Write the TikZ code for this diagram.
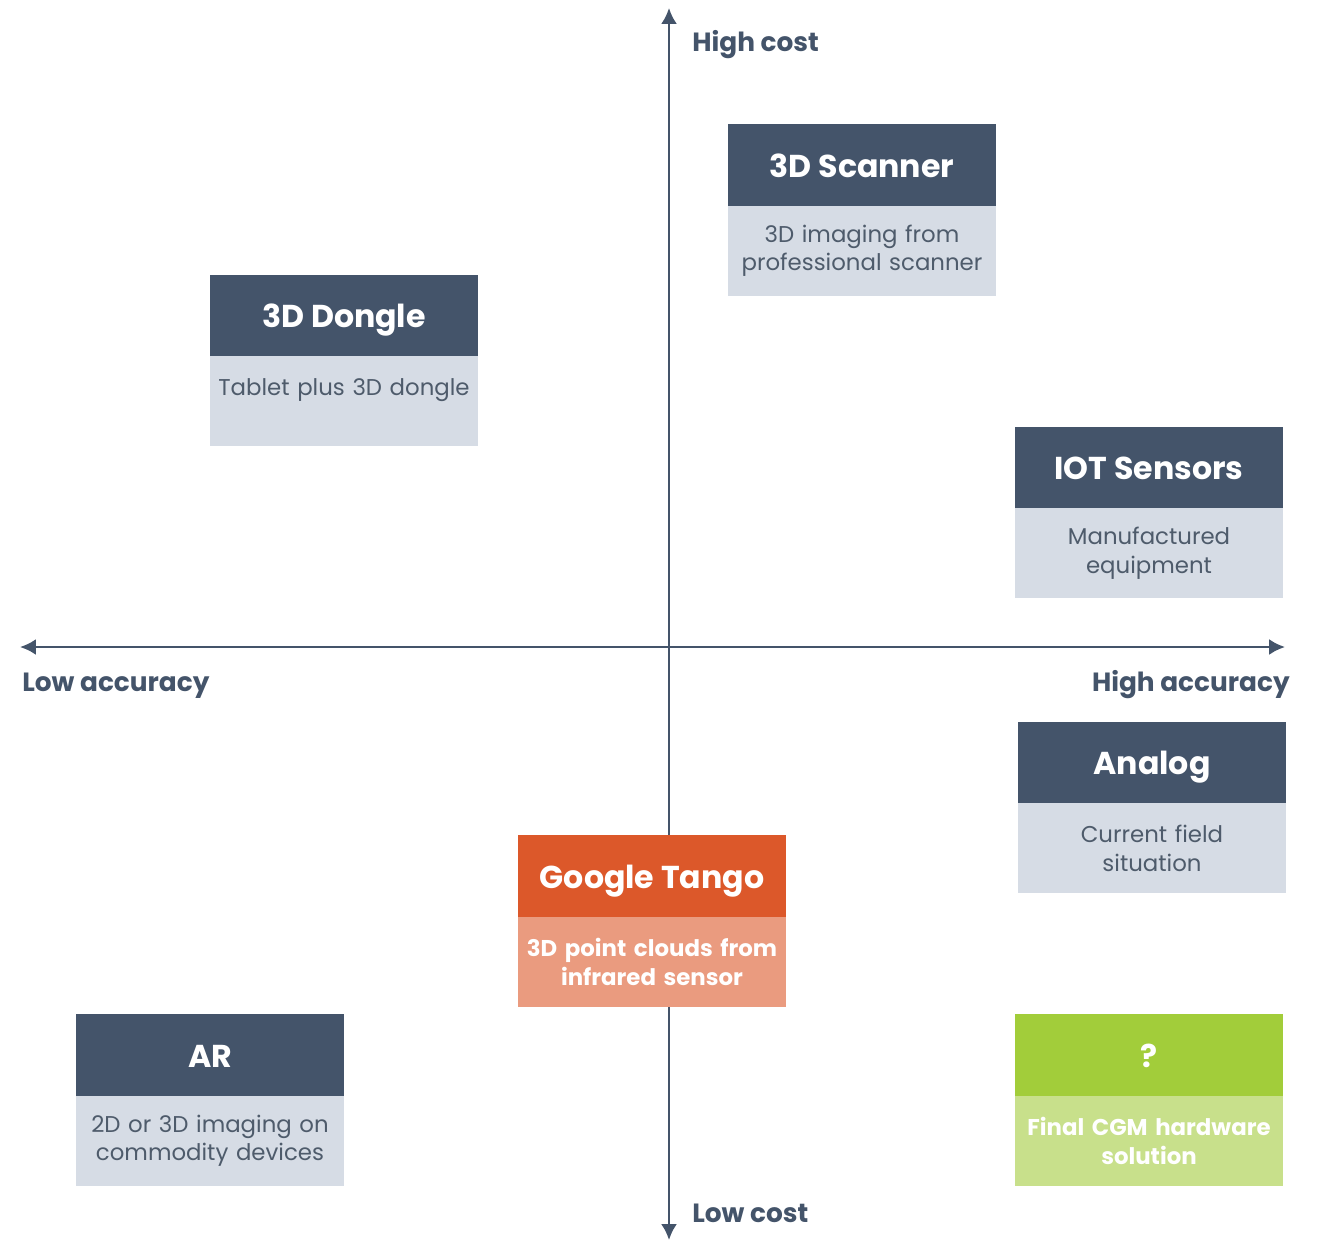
\documentclass[tikz,border=0pt]{standalone}
\usepackage{fontspec}
\setmainfont{Poppins}
\usetikzlibrary{arrows.meta,positioning}
\usepackage{xcolor}
\definecolor{slate}{HTML}{44546A}
\definecolor{slatetext}{HTML}{4E5B6B}
\definecolor{mist}{HTML}{D6DCE5}
\definecolor{tangohead}{HTML}{DC582A}
\definecolor{tangobody}{HTML}{EA9B7F}
\definecolor{finalhead}{HTML}{A2CD3A}
\definecolor{finalbody}{HTML}{C8E08B}

\begin{document}
\begin{tikzpicture}[x=2cm,y=-2cm,
	head/.style={fill=slate,text=white,font=\fontsize{18}{22}\selectfont\bfseries,minimum width=5.36cm,minimum height=1.64cm,inner sep=0pt,text height=14pt,text depth=0pt},
	body/.style={fill=mist,text=slatetext,font=\fontsize{13}{16.2}\selectfont,minimum width=5.36cm,minimum height=1.8cm,text width=5.2cm,align=center,inner sep=0pt},
	axisline/.style={draw=slate,line width=1.4pt,{Latex[length=9pt,width=9pt]}-{Latex[length=9pt,width=9pt]}},
	axislabel/.style={text=slate,font=\fontsize{15}{18}\selectfont\bfseries,inner sep=0pt}]

	\useasboundingbox (0,0) rectangle (13.19,12.42);

	% axes
	\coordinate (costtop) at (6.69,0.08);
	\coordinate (costbottom) at (6.69,12.40);
	\coordinate (accleft) at (0.20,6.47);
	\coordinate (accright) at (12.85,6.47);
	\draw[axisline] (costbottom) -- (costtop);
	\draw[axisline] (accleft) -- (accright);

	\node[axislabel,anchor=west] (highcost) at (6.92,0.45) {High cost};
	\node[axislabel,anchor=west] (lowcost) at (6.92,12.13) {Low cost};
	\node[axislabel,anchor=west] (lowacc) at (0.22,6.86) {Low accuracy};
	\node[axislabel,anchor=east] (highacc) at (12.90,6.85) {High accuracy};

	% 3D scanner
	\node[head] (scanner) at (8.62,1.65) {3D Scanner};
	\node[body,below=-0.5pt of scanner] (scanner-txt) {3D imaging from\\professional scanner};

	% 3D dongle
	\node[head] (dongle) at (3.44,3.155) {3D Dongle};
	\node[body,below=-0.5pt of dongle] (dongle-txt) {Tablet plus 3D dongle\\~};

	% IOT sensors
	\node[head] (iot) at (11.49,4.675) {IOT Sensors};
	\node[body,below=-0.5pt of iot] (iot-txt) {Manufactured\\equipment};

	% analog
	\node[head] (analog) at (11.52,7.625) {Analog};
	\node[body,below=-0.5pt of analog] (analog-txt) {Current field\\situation};

	% google tango
	\node[head,fill=tangohead] (tango) at (6.52,8.76) {Google Tango};
	\node[body,below=-0.5pt of tango,fill=tangobody,text=white,font=\fontsize{13}{16.2}\selectfont\bfseries] (tango-txt) {3D point clouds from\\infrared sensor};

	% AR
	\node[head] (ar) at (2.10,10.55) {AR};
	\node[body,below=-0.5pt of ar] (ar-txt) {2D or 3D imaging on\\commodity devices};

	% final solution
	\node[head,fill=finalhead] (final) at (11.49,10.55) {?};
	\node[body,below=-0.5pt of final,fill=finalbody,text=white,font=\fontsize{13}{16.2}\selectfont\bfseries] (final-txt) {Final CGM hardware\\solution};

\end{tikzpicture}
\end{document}
